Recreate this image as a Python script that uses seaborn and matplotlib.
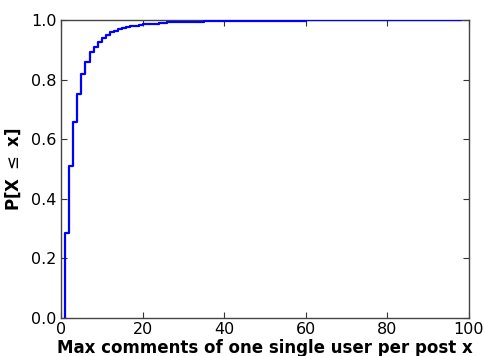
import matplotlib
matplotlib.use("Agg")
import matplotlib.pyplot as plt
import seaborn as sns
import pandas as pd

# Empirical CDF of the largest number of comments one user leaves on a post
max_comments = [1, 2, 3, 4, 5, 6, 7, 8, 9, 10,
                11, 12, 13, 14, 15, 16, 17, 18, 19, 20,
                22, 24, 26, 28, 30, 35, 40, 45, 50, 60,
                70, 80, 90, 98]
cdf = [0.284, 0.509, 0.658, 0.753, 0.817, 0.860, 0.891, 0.910, 0.927, 0.938,
       0.949, 0.958, 0.964, 0.969, 0.973, 0.976, 0.979, 0.981, 0.983, 0.985,
       0.988, 0.990, 0.992, 0.993, 0.994, 0.996, 0.997, 0.998, 0.998, 0.999,
       0.9995, 0.9998, 0.9999, 1.0]

xticks = [0, 20, 40, 60, 80, 100]
yticks = [0.0, 0.2, 0.4, 0.6, 0.8, 1.0]

sns.set_style("white", {
    "xtick.direction": "in",
    "ytick.direction": "in",
    "axes.edgecolor": "#333333",
    "text.color": "black",
    "axes.labelcolor": "black",
    "xtick.color": "black",
    "ytick.color": "black",
})
plt.rcParams["font.family"] = ["DejaVu Sans"]

# the curve rises from zero at the first observed value
df = pd.DataFrame({
    "x": [max_comments[0]] + max_comments,
    "p": [0.0] + cdf,
})

fig = plt.figure(figsize=(4.84, 3.56), dpi=100)
ax = fig.add_axes([0.126, 0.107, 0.843, 0.837])

sns.lineplot(data=df, x="x", y="p", estimator=None, sort=False,
             drawstyle="steps-post", color="#0000ff", linewidth=1.6, ax=ax)
for ln in ax.lines:
    ln.set_zorder(3)

ax.set_xlim(0, 100)
ax.set_ylim(0, 1.0)
ax.set_xticks(xticks)
ax.set_yticks(yticks)
ax.set_yticklabels([f"{v:.1f}" for v in yticks])
ax.tick_params(axis="both", which="major", direction="in", length=4, width=0.8,
               labelsize=11.5, top=True, right=True, bottom=True, left=True,
               color="#333333", labelcolor="black", pad=3)
for s in ax.spines.values():
    s.set_linewidth(1.0)
    s.set_color("#444444")

ax.set_xlabel("Max comments of one single user per post x",
              fontsize=12, fontweight="bold", labelpad=1.5)
ax.set_ylabel(r"P[X $\leq$ x]", fontsize=12, fontweight="bold", labelpad=6)

fig.savefig("out.png", dpi=100)
